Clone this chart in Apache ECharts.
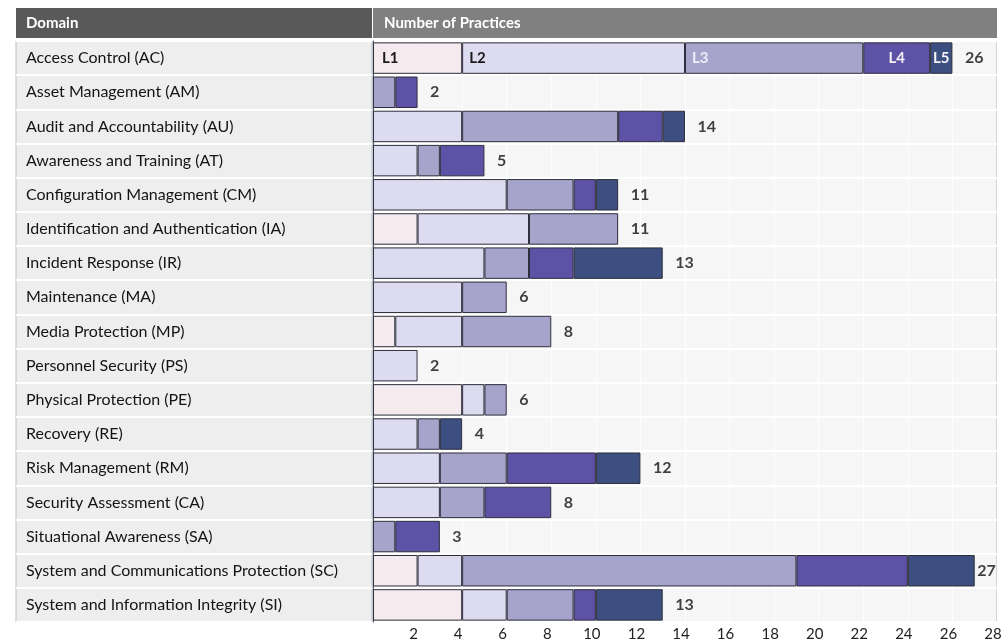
<!DOCTYPE html>
<html>
<head>
<meta charset="utf-8">
<script src="https://cdn.jsdelivr.net/npm/echarts@6/dist/echarts.min.js"></script>
<style>
  html, body { margin: 0; padding: 0; background: #ffffff; }
  #chart { width: 1006px; height: 642px; }
</style>
</head>
<body>
<div id="chart"></div>
<script>
// CMMC domains and the number of practices introduced at each maturity level
const domains = [
  'Access Control (AC)',
  'Asset Management (AM)',
  'Audit and Accountability (AU)',
  'Awareness and Training (AT)',
  'Configuration Management (CM)',
  'Identification and Authentication (IA)',
  'Incident Response (IR)',
  'Maintenance (MA)',
  'Media Protection (MP)',
  'Personnel Security (PS)',
  'Physical Protection (PE)',
  'Recovery (RE)',
  'Risk Management (RM)',
  'Security Assessment (CA)',
  'Situational Awareness (SA)',
  'System and Communications Protection (SC)',
  'System and Information Integrity (SI)'
];
const levelNames = ['L1', 'L2', 'L3', 'L4', 'L5'];
const level1 = [4, 0, 0, 0, 0, 2, 0, 0, 1, 0, 4, 0, 0, 0, 0, 2, 4];
const level2 = [10, 0, 4, 2, 6, 5, 5, 4, 3, 2, 1, 2, 3, 3, 0, 2, 2];
const level3 = [8, 1, 7, 1, 3, 4, 2, 2, 4, 0, 1, 1, 3, 2, 1, 15, 3];
const level4 = [3, 1, 2, 2, 1, 0, 2, 0, 0, 0, 0, 0, 4, 3, 2, 5, 1];
const level5 = [1, 0, 1, 0, 1, 0, 4, 0, 0, 0, 0, 1, 2, 0, 0, 3, 3];
const xMax = 28;
const xStep = 2;

const levels = [level1, level2, level3, level4, level5];
const levelColors = ['#f5eaee', '#dddbf0', '#a7a4cc', '#5d52a5', '#3c4f80'];
// name tags drawn inside the first row's segments
const tagStyles = [
  { position: 'insideLeft', distance: 9, color: '#1a1a1a' },
  { position: 'insideLeft', distance: 7, color: '#1a1a1a' },
  { position: 'insideLeft', distance: 7, color: '#eeeef6' },
  { position: 'inside', color: '#f2f2f8' },
  { position: 'inside', color: '#f2f2f8' }
];
const totals = domains.map((_, i) => levels.reduce((s, arr) => s + arr[i], 0));

const FONT = 'Lato, "Open Sans", sans-serif';
const GRID_TOP = 41;
const GRID_BOTTOM = 20;

const levelSeries = levels.map((arr, li) => ({
  name: levelNames[li],
  type: 'bar',
  stack: 'levels',
  xAxisIndex: 1,
  yAxisIndex: 1,
  barCategoryGap: '8%',
  itemStyle: { color: levelColors[li], borderColor: '#2e2e3c', borderWidth: 1 },
  emphasis: { disabled: true },
  data: arr.map((v, i) => {
    if (!v) return '-';
    if (i !== 0) return v;
    return {
      value: v,
      label: Object.assign({
        show: true,
        formatter: levelNames[li],
        fontFamily: FONT,
        fontWeight: 'bold',
        fontSize: 15
      }, tagStyles[li])
    };
  })
}));

const chart = echarts.init(document.getElementById('chart'), null, { renderer: 'canvas' });
chart.setOption({
  animation: false,
  backgroundColor: '#ffffff',
  grid: [
    { left: 16, width: 356, top: GRID_TOP, bottom: GRID_BOTTOM, show: true,
      backgroundColor: '#eeeeee', borderColor: '#b9bec7', borderWidth: 1 },
    { left: 373, right: 9, top: GRID_TOP, bottom: GRID_BOTTOM, show: true,
      backgroundColor: '#f6f6f6', borderColor: '#aab2bf', borderWidth: 1 }
  ],
  xAxis: [
    { gridIndex: 0, type: 'value', show: false, min: 0, max: 1 },
    { gridIndex: 1, type: 'value', min: 0, max: xMax, interval: xStep,
      axisLine: { show: false }, axisTick: { show: false },
      splitLine: { show: true, lineStyle: { color: '#ffffff', width: 1 } },
      axisLabel: {
        margin: 5, color: '#222222', fontSize: 15, fontFamily: FONT,
        padding: [0, 8, 0, 0],
        formatter: v => (v === 0 ? '' : String(v))
      }
    }
  ],
  yAxis: [
    { gridIndex: 0, type: 'category', inverse: true, data: domains,
      axisLine: { show: false }, axisTick: { show: false },
      splitLine: { show: true, lineStyle: { color: '#ffffff', width: 2 } },
      axisLabel: { inside: true, margin: 10, color: '#141414', fontSize: 16, fontFamily: FONT }
    },
    { gridIndex: 1, type: 'category', inverse: true, data: domains,
      axisLine: { show: true, lineStyle: { color: '#555a66', width: 1 } },
      axisTick: { show: false }, axisLabel: { show: false },
      splitLine: { show: true, lineStyle: { color: '#ffffff', width: 2 } }
    }
  ],
  series: levelSeries.concat([{
    name: 'Total',
    type: 'scatter',
    xAxisIndex: 1,
    yAxisIndex: 1,
    symbolSize: 1,
    itemStyle: { color: 'rgba(0,0,0,0)' },
    silent: true,
    z: 5,
    data: totals.map((t, i) => ({
      value: [t, i],
      label: {
        show: true,
        position: 'right',
        distance: t >= xMax - 1 ? 2 : 12,
        formatter: String(t),
        color: '#111111',
        fontFamily: FONT,
        fontWeight: 'bold',
        fontSize: 16
      }
    }))
  }]),
  graphic: [
    { type: 'rect', shape: { x: 16, y: 8, width: 356, height: 30 }, style: { fill: '#595959' } },
    { type: 'rect', shape: { x: 373, y: 8, width: 624, height: 30 }, style: { fill: '#808080' } },
    { type: 'text', x: 26, y: 23, style: { text: 'Domain', fill: '#ffffff', font: 'bold 15px ' + FONT, verticalAlign: 'middle' } },
    { type: 'text', x: 384, y: 23, style: { text: 'Number of Practices', fill: '#ffffff', font: 'bold 15px ' + FONT, verticalAlign: 'middle' } }
  ]
});
</script>
</body>
</html>
